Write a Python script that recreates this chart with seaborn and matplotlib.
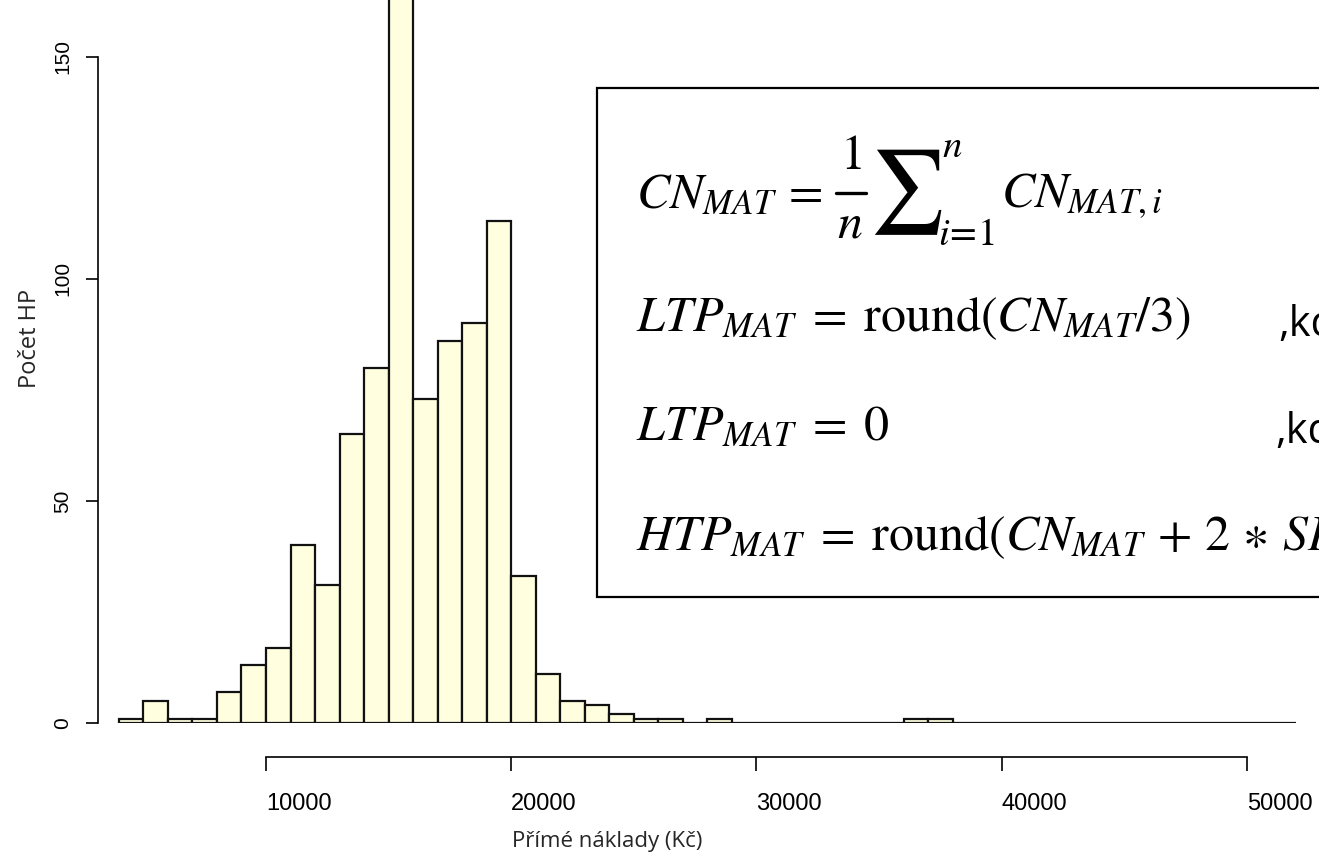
import matplotlib
matplotlib.use('Agg')
import matplotlib.pyplot as plt
import matplotlib.patches as patches
from matplotlib.lines import Line2D
import pandas as pd
import seaborn as sns

# histogram bins (left edges, width 1000 Kč) and counts
bin_left = list(range(4000, 52000, 1000))
counts = [1, 5, 1, 1, 7, 13, 17, 40, 31, 65, 80, 170, 73, 86, 90, 113,
          33, 11, 5, 4, 2, 1, 1, 0, 1, 0, 0, 0, 0, 0, 0, 0, 1, 1,
          0, 0, 0, 0, 0, 0, 0, 0, 0, 0, 0, 0, 0, 0]
x_ticks = [10000, 20000, 30000, 40000, 50000]
y_ticks = [0, 50, 100, 150]

df = pd.DataFrame({'naklady': [b + 500 for b in bin_left], 'pocet': counts})

sns.set_theme(style='white')
plt.rcParams['font.family'] = ['Liberation Sans', 'DejaVu Sans']
plt.rcParams['mathtext.fontset'] = 'stix'

W, H = 1319, 856
fig = plt.figure(figsize=(W / 100, H / 100), dpi=100)
ax = fig.add_axes([98 / W, (H - 723) / H, (W - 98) / W, 723 / H])

sns.histplot(data=df, x='naklady', weights='pocet', binwidth=1000, binrange=(4000, 52000),
             color='#FFFFE0', edgecolor='#111111', linewidth=1.6, alpha=1,
             ax=ax)

ax.set_xlim(3150, 52936)
ax.set_ylim(0, 162.8)

# R-like axes
for s in ['top', 'right']:
    ax.spines[s].set_visible(False)
ax.spines['left'].set_bounds(0, 150)
ax.spines['bottom'].set_bounds(10000, 50000)
ax.spines['bottom'].set_position(('outward', 24.5))
for s in ['left', 'bottom']:
    ax.spines[s].set_color('black')
    ax.spines[s].set_linewidth(1.2)

ax.set_xticks(x_ticks)
ax.set_xticklabels([str(v) for v in x_ticks], fontsize=17)
for lab in ax.get_xticklabels():
    lab.set_horizontalalignment('left')
ax.set_yticks(y_ticks)
ax.set_yticklabels([str(v) for v in y_ticks], fontsize=15, rotation=90,
                   va='center', family=['Liberation Sans Narrow', 'Liberation Sans'])
ax.tick_params(axis='x', direction='out', length=10, width=1.2, pad=16,
               bottom=True, colors='black')
ax.tick_params(axis='y', direction='out', length=8.5, width=1.2, pad=10,
               left=True, colors='black')

ax.set_xlabel('Přímé náklady (Kč)', fontsize=16, family=['Open Sans', 'DejaVu Sans'])
ax.xaxis.set_label_coords((607 - 98) / 1221, (723 - 831) / 723)
ax.set_ylabel('Počet HP', fontsize=17, family=['Open Sans', 'DejaVu Sans'])
ax.yaxis.set_label_coords((42 - 98) / 1221, (723 - 338) / 723)

# formula box
box = patches.Rectangle((597 / W, (H - 597) / H), (W + 20 - 597) / W, (597 - 88) / H,
                        transform=fig.transFigure, facecolor='white',
                        edgecolor='black', linewidth=1.6, zorder=5)
fig.add_artist(box)

def ftext(x, y, s, va='baseline', ha='left', **kw):
    fig.text(x / W, 1 - y / H, s, va=va, ha=ha, zorder=6, color='black', **kw)

fs = 36
# mean formula, built from pieces so the fraction and sum get display size
ftext(636, 208, r'$CN_{MAT}\,=$', fontsize=fs)
ftext(851, 169, r'$1$', ha='center', fontsize=fs)
fig.add_artist(Line2D([836 / W, 866 / W], [1 - 193 / H, 1 - 193 / H],
                      transform=fig.transFigure, color='black', lw=2.4, zorder=6))
ftext(850, 238, r'$n$', ha='center', fontsize=fs)
ftext(869, 192, r'$\sum$', va='center', fontsize=60)
ftext(942, 157, r'$n$', fontsize=28)
ftext(938, 245, r'$i\!=\!1$', fontsize=28)
ftext(1001, 208, r'$CN_{MAT,i}$', fontsize=fs)

ftext(636, 331, r'$LTP_{MAT}\;=\;\mathrm{round}(CN_{MAT}/3)$', fontsize=fs)
ftext(636, 440, r'$LTP_{MAT}\;=\;0$', fontsize=fs)
ftext(636, 550, r'$HTP_{MAT}\;=\;\mathrm{round}(CN_{MAT}\,+\,2\,\ast\,SD_{MAT})$', fontsize=fs)
ftext(1278, 336, ',když', fontsize=30, family=['Open Sans', 'DejaVu Sans'])
ftext(1275, 443, ',když', fontsize=30, family=['Open Sans', 'DejaVu Sans'])

fig.savefig('out.png', dpi=100)
